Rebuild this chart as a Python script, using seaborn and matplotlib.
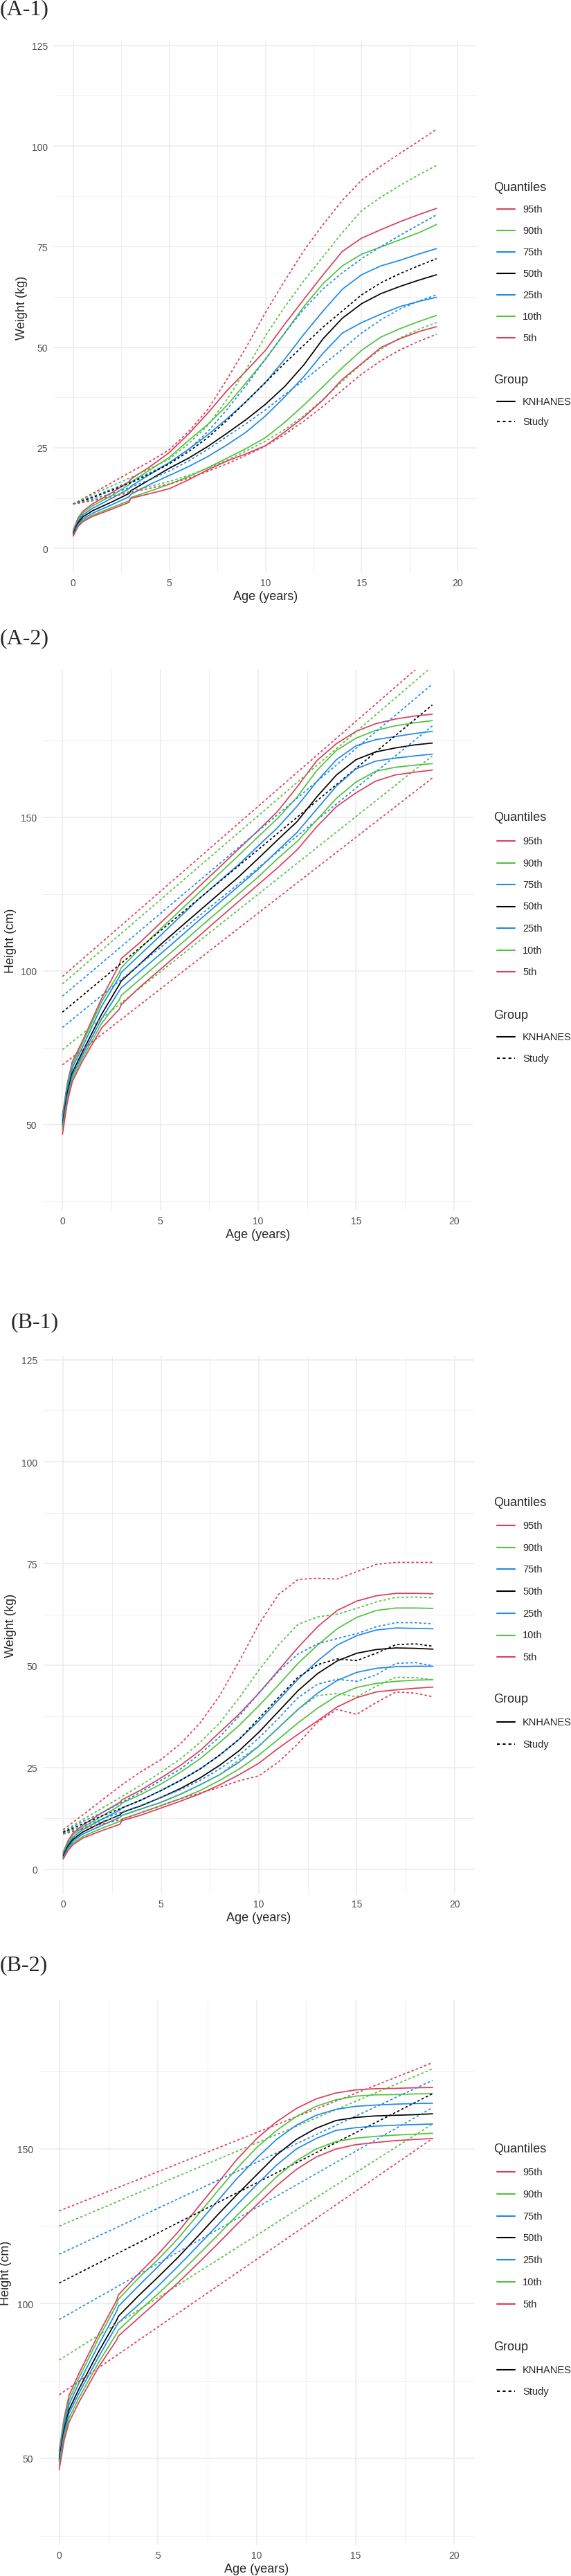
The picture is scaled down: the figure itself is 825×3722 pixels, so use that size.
"""
Growth chart comparison: KNHANES reference quantiles vs study quantiles
Weight and height by age, four stacked panels (A-1, A-2, B-1, B-2)
"""

import numpy as np
import pandas as pd
import matplotlib
matplotlib.use('Agg')
import matplotlib.pyplot as plt
from matplotlib.lines import Line2D
import seaborn as sns

sns.set_style('white')
plt.rcParams['font.family'] = ['Liberation Sans', 'DejaVu Sans']

# ---------------------------------------------------------------- data
QUANTILES = ['95th', '90th', '75th', '50th', '25th', '10th', '5th']
GROUPS = ['KNHANES', 'Study']

# ages for the KNHANES curves and for the study curves
AGE_K = [0, 0.25, 0.5, 1, 2, 2.9, 3, 4, 5, 6, 7, 8, 9, 10, 11, 12, 13, 14,
         15, 16, 17, 18, 18.9]
AGE_S = [0, 1, 2, 3, 4, 5, 6, 7, 8, 9, 10, 11, 12, 13, 14, 15, 16, 17, 18, 18.9]
AGE_LIN = [0, 18.9]

# (A-1) weight
A1_KNHANES = {
    '95th': [4.5, 7.5, 9.2, 11.0, 13.8, 16.5, 17.2, 20.3, 23.8, 28.4, 33.6, 39.2, 44.1, 49.2, 55.7, 61.9, 68.0, 73.8, 77.1, 79.2, 81.2, 83.0, 84.5],
    '90th': [4.2, 7.1, 8.8, 10.5, 13.1, 15.8, 16.4, 19.5, 22.6, 26.8, 30.8, 35.5, 41.2, 47.0, 53.5, 60.1, 65.8, 70.2, 73.1, 74.9, 76.7, 78.5, 80.5],
    '75th': [3.9, 6.7, 8.3, 9.9, 12.4, 14.8, 15.4, 18.4, 21.3, 24.6, 28.2, 32.2, 36.5, 41.2, 47.0, 53.2, 59.0, 64.4, 68.0, 70.2, 71.6, 73.2, 74.5],
    '50th': [3.6, 6.3, 7.8, 9.3, 11.5, 13.6, 14.3, 17.1, 19.9, 22.4, 25.3, 28.6, 32.0, 35.8, 40.2, 45.6, 52.1, 57.2, 60.8, 63.3, 65.1, 66.7, 68.0],
    '25th': [3.3, 5.9, 7.3, 8.7, 10.8, 12.8, 13.4, 15.9, 18.1, 20.3, 22.8, 25.7, 28.9, 32.9, 37.6, 42.7, 48.5, 53.5, 56.1, 58.2, 60.1, 61.4, 62.4],
    '10th': [3.1, 5.6, 6.9, 8.2, 10.1, 11.8, 12.6, 14.2, 15.9, 17.8, 20.0, 22.4, 24.8, 27.5, 31.3, 35.6, 40.2, 44.9, 49.2, 52.5, 54.6, 56.4, 57.9],
    '5th':  [3.0, 5.4, 6.6, 7.9, 9.7, 11.4, 12.4, 13.6, 14.8, 17.0, 19.5, 21.7, 23.5, 25.5, 28.9, 32.6, 36.9, 42.0, 45.9, 49.9, 52.1, 53.9, 55.1],
}
A1_STUDY = {
    '95th': [11.0, 13.6, 16.3, 19.0, 21.6, 24.5, 29.0, 34.5, 42.0, 50.0, 58.6, 66.5, 74.0, 80.5, 86.5, 91.5, 95.0, 98.2, 101.3, 104.2],
    '90th': [11.0, 13.3, 15.5, 17.6, 19.8, 22.2, 26.0, 30.5, 37.0, 44.5, 52.8, 60.0, 66.5, 72.5, 78.5, 83.9, 87.3, 90.2, 92.9, 95.2],
    '75th': [11.0, 12.8, 14.7, 16.6, 18.8, 21.2, 24.5, 29.0, 34.5, 40.5, 47.0, 53.5, 59.5, 64.5, 68.5, 72.0, 75.0, 77.8, 80.5, 82.9],
    '50th': [11.0, 12.6, 14.4, 16.3, 18.5, 21.0, 24.0, 27.5, 31.8, 36.5, 41.2, 46.0, 50.5, 55.0, 59.0, 63.0, 66.0, 68.3, 70.3, 72.0],
    '25th': [11.0, 12.2, 13.6, 15.2, 17.1, 19.2, 21.7, 24.6, 27.8, 31.0, 34.4, 38.2, 41.8, 45.6, 49.5, 53.5, 56.8, 59.5, 61.5, 63.0],
    '10th': [11.0, 11.9, 13.0, 14.2, 15.4, 16.6, 18.1, 19.9, 21.9, 24.2, 26.6, 29.5, 33.0, 37.0, 41.5, 45.8, 49.5, 52.3, 54.5, 56.1],
    '5th':  [11.0, 11.8, 12.8, 13.9, 14.9, 16.0, 17.4, 19.1, 21.0, 23.1, 25.4, 28.3, 31.6, 35.3, 39.3, 43.3, 46.6, 49.3, 51.5, 53.2],
}

# (A-2) height
A2_KNHANES = {
    '95th': [53.1, 63.5, 70.4, 76.9, 91.0, 102.0, 104.0, 109.5, 115.6, 121.6, 127.6, 133.6, 139.7, 145.7, 152.0, 160.0, 168.5, 174.0, 178.0, 180.5, 182.0, 183.0, 183.6],
    '90th': [52.3, 62.8, 69.4, 76.2, 90.0, 99.5, 101.0, 107.5, 113.6, 119.6, 125.6, 131.6, 137.6, 143.7, 149.7, 156.7, 165.3, 171.8, 175.8, 178.3, 179.8, 180.8, 181.5],
    '75th': [51.3, 61.8, 68.4, 74.9, 88.5, 98.0, 99.5, 105.5, 111.5, 117.6, 123.6, 129.1, 134.6, 140.7, 146.7, 153.7, 161.7, 168.8, 173.3, 175.3, 176.3, 177.3, 178.0],
    '50th': [50.0, 60.3, 66.9, 73.4, 85.9, 95.5, 96.7, 102.5, 108.5, 114.1, 119.6, 125.1, 130.6, 136.6, 142.7, 148.7, 156.7, 163.8, 168.8, 171.3, 172.6, 173.6, 174.2],
    '25th': [49.3, 59.2, 65.9, 72.4, 84.4, 93.5, 94.5, 100.0, 105.5, 111.0, 116.6, 122.1, 127.6, 133.1, 139.2, 145.2, 152.7, 160.2, 165.8, 168.3, 169.3, 170.0, 170.6],
    '10th': [48.3, 58.2, 64.9, 71.4, 82.9, 90.5, 92.0, 97.5, 103.0, 108.5, 114.1, 119.6, 125.1, 130.6, 136.6, 142.2, 149.2, 156.2, 161.5, 165.0, 166.3, 167.0, 167.5],
    '5th':  [46.8, 57.3, 63.9, 70.4, 81.4, 87.5, 89.0, 95.0, 100.5, 106.0, 111.5, 117.1, 122.6, 128.1, 133.6, 139.5, 147.0, 153.5, 158.0, 161.8, 163.8, 164.7, 165.4],
}
A2_STUDY = {
    '95th': [98.2, 202.9],
    '90th': [95.8, 199.2],
    '75th': [91.8, 193.4],
    '50th': [86.6, 186.6],
    '25th': [81.6, 179.8],
    '10th': [74.4, 170.0],
    '5th':  [69.4, 162.8],
}

# (B-1) weight
B1_KNHANES = {
    '95th': [4.1, 7.0, 8.8, 10.8, 13.9, 16.4, 17.0, 19.5, 22.4, 25.5, 29.1, 33.6, 38.1, 43.2, 48.8, 54.4, 59.5, 63.5, 65.8, 67.1, 67.7, 67.7, 67.6],
    '90th': [3.8, 6.6, 8.4, 10.2, 13.1, 15.6, 16.2, 18.4, 20.9, 23.8, 27.1, 31.1, 35.3, 40.1, 45.2, 50.5, 55.0, 59.0, 61.8, 63.5, 64.1, 64.1, 64.0],
    '75th': [3.5, 6.1, 7.8, 9.7, 12.3, 14.5, 15.0, 17.0, 19.3, 21.8, 24.6, 28.0, 31.9, 36.4, 41.5, 46.6, 51.1, 55.0, 57.3, 58.7, 59.2, 59.1, 59.0],
    '50th': [3.2, 5.7, 7.3, 9.1, 11.5, 13.3, 13.9, 15.6, 17.6, 19.8, 22.4, 25.5, 29.1, 33.6, 38.7, 43.8, 48.0, 51.1, 53.0, 53.9, 54.3, 54.2, 54.0],
    '25th': [2.9, 5.3, 6.9, 8.6, 10.8, 12.7, 13.2, 14.8, 16.4, 18.4, 20.7, 23.2, 26.3, 30.2, 34.7, 39.2, 43.2, 46.3, 48.3, 49.3, 49.7, 49.8, 49.8],
    '10th': [2.6, 4.9, 6.4, 8.0, 10.1, 11.7, 12.3, 13.9, 15.6, 17.3, 19.3, 21.8, 24.6, 28.0, 31.9, 35.9, 39.5, 42.6, 44.6, 45.6, 46.1, 46.4, 46.5],
    '5th':  [2.5, 4.6, 6.0, 7.6, 9.5, 11.0, 11.9, 13.3, 15.0, 16.7, 18.5, 20.7, 23.2, 26.0, 29.7, 33.1, 36.4, 39.8, 42.1, 43.5, 44.0, 44.4, 44.7],
}
B1_STUDY = {
    '95th': [9.7, 13.3, 17.0, 20.7, 24.0, 26.9, 30.8, 35.9, 42.6, 51.1, 60.1, 67.4, 71.1, 71.4, 71.2, 73.0, 74.8, 75.3, 75.3, 75.3],
    '90th': [9.3, 12.2, 15.0, 17.8, 20.7, 23.8, 27.1, 31.1, 35.9, 42.1, 48.8, 55.0, 60.1, 61.9, 62.6, 64.0, 65.6, 66.7, 66.8, 66.6],
    '75th': [9.1, 11.7, 13.9, 16.4, 19.0, 21.8, 24.6, 28.3, 32.5, 37.6, 43.2, 48.5, 52.8, 55.3, 56.6, 57.8, 59.5, 60.5, 60.5, 60.2],
    '50th': [9.0, 11.1, 13.1, 15.0, 17.0, 19.3, 21.8, 24.6, 28.0, 31.9, 37.0, 42.1, 47.1, 50.2, 51.6, 51.2, 53.0, 55.1, 55.3, 54.7],
    '25th': [8.8, 10.6, 12.3, 14.0, 15.7, 17.6, 19.5, 21.8, 24.6, 28.0, 32.2, 37.0, 42.1, 45.4, 46.6, 46.1, 47.7, 50.5, 50.7, 49.9],
    '10th': [8.7, 10.2, 11.7, 13.2, 14.8, 16.4, 18.4, 20.7, 23.2, 26.9, 30.2, 34.7, 39.2, 42.6, 43.1, 42.3, 44.9, 47.1, 47.0, 46.5],
    '5th':  [8.6, 9.9, 11.1, 12.2, 13.9, 15.6, 17.3, 18.7, 20.1, 21.7, 22.9, 26.3, 30.8, 36.1, 39.2, 38.0, 40.9, 43.5, 43.2, 42.3],
}

# (B-2) height
B2_KNHANES = {
    '95th': [52.4, 63.0, 70.3, 77.4, 90.2, 100.9, 102.8, 109.5, 115.9, 123.0, 130.9, 138.7, 146.6, 153.3, 158.7, 163.0, 166.1, 168.0, 169.0, 169.4, 169.5, 169.7, 169.8],
    '90th': [51.0, 61.8, 68.8, 76.0, 88.8, 99.5, 101.4, 108.1, 114.2, 120.9, 128.5, 136.2, 143.7, 150.4, 155.9, 160.4, 163.7, 165.8, 167.0, 167.4, 167.5, 167.7, 167.8],
    '75th': [50.3, 60.6, 67.4, 74.3, 86.7, 97.4, 99.1, 105.6, 111.9, 118.5, 125.6, 133.0, 140.4, 147.0, 153.0, 157.6, 160.8, 162.7, 163.7, 164.1, 164.4, 164.6, 164.7],
    '50th': [49.6, 59.2, 65.7, 72.4, 84.5, 94.5, 95.9, 102.4, 108.5, 114.8, 121.6, 128.5, 135.2, 141.6, 148.0, 153.0, 156.6, 159.1, 160.1, 160.6, 160.8, 161.0, 161.3],
    '25th': [48.9, 58.2, 64.6, 71.0, 82.8, 92.8, 93.8, 99.5, 105.6, 111.9, 118.5, 125.2, 131.9, 138.4, 144.7, 149.9, 153.3, 155.9, 156.8, 157.3, 157.6, 157.8, 158.0],
    '10th': [47.7, 57.0, 63.1, 69.5, 81.0, 90.2, 91.4, 97.4, 103.1, 109.1, 115.5, 121.9, 128.5, 134.7, 140.9, 146.1, 149.9, 152.3, 153.4, 154.0, 154.4, 154.7, 155.0],
    '5th':  [46.3, 55.8, 61.7, 68.1, 79.5, 88.1, 89.5, 95.2, 100.9, 106.6, 112.8, 119.1, 125.6, 131.9, 138.0, 143.3, 147.3, 149.9, 151.3, 152.0, 152.6, 153.0, 153.3],
}
B2_STUDY = {
    '95th': [129.9, 177.8],
    '90th': [125.0, 175.8],
    '75th': [115.9, 172.1],
    '50th': [106.6, 167.8],
    '25th': [94.8, 163.3],
    '10th': [81.7, 158.0],
    '5th':  [70.5, 153.3],
}

PALETTE = {'95th': '#DC3F5C', '90th': '#52C23F', '75th': '#1E8AE6', '50th': 'black',
           '25th': '#1E8AE6', '10th': '#52C23F', '5th': '#DC3F5C'}

# ---------------------------------------------------------------- layout (pixels)
W, H = 825, 3723
GRID = '#EBEBEB'

PANELS = [
    dict(title='(A-1)', tx=0, ty=14, box=(78, 689, 61, 828), kind='weight',
         ylabel='Weight (kg)', ylx=32, leg=(271, 303, 31.0, 549, 581, 610),
         data=(A1_KNHANES, AGE_K, A1_STUDY, AGE_S)),
    dict(title='(A-2)', tx=0, ty=923, box=(62, 684, 969, 1750), kind='height',
         ylabel='Height (cm)', ylx=16, leg=(1182, 1216, 31.5, 1467, 1499, 1530),
         data=(A2_KNHANES, AGE_K, A2_STUDY, AGE_LIN)),
    dict(title='(B-1)', tx=16, ty=1911, box=(63, 685, 1960, 2737), kind='weight',
         ylabel='Weight (kg)', ylx=16, leg=(2172, 2205, 31.7, 2456, 2489, 2521),
         data=(B1_KNHANES, AGE_K, B1_STUDY, AGE_S)),
    dict(title='(B-2)', tx=0, ty=2840, box=(57, 685, 2891, 3678), kind='height',
         ylabel='Height (cm)', ylx=9, leg=(3106, 3139, 31.8, 3391, 3425, 3456),
         data=(B2_KNHANES, AGE_K, B2_STUDY, AGE_LIN)),
]


def fx(px):
    return px / W


def fy(py):
    return 1 - py / H


def long_frame(knhanes, age_k, study, age_s):
    rows = []
    for q in QUANTILES:
        for a, v in zip(age_k, knhanes[q]):
            rows.append((a, v, q, 'KNHANES'))
        for a, v in zip(age_s, study[q]):
            rows.append((a, v, q, 'Study'))
    return pd.DataFrame(rows, columns=['age', 'value', 'quantile', 'group'])


def draw_legend(fig, leg):
    q_title, first, step, g_title, kn_y, st_y = leg
    fig.text(fx(713), fy(q_title), 'Quantiles', fontsize=13, va='center', ha='left')
    for i, q in enumerate(QUANTILES):
        y = first + i * step
        fig.add_artist(Line2D([fx(718), fx(744)], [fy(y), fy(y)], transform=fig.transFigure,
                              color=PALETTE[q], lw=1.5))
        fig.text(fx(755), fy(y), q, fontsize=10.5, va='center', ha='left')
    fig.text(fx(713), fy(g_title), 'Group', fontsize=13, va='center', ha='left')
    fig.add_artist(Line2D([fx(718), fx(744)], [fy(kn_y), fy(kn_y)], transform=fig.transFigure,
                          color='black', lw=1.5))
    fig.add_artist(Line2D([fx(718), fx(744)], [fy(st_y), fy(st_y)], transform=fig.transFigure,
                          color='black', lw=1.5, linestyle=(0, (2, 2))))
    fig.text(fx(755), fy(kn_y), 'KNHANES', fontsize=10.5, va='center', ha='left')
    fig.text(fx(755), fy(st_y), 'Study', fontsize=10.5, va='center', ha='left')


fig = plt.figure(figsize=(W / 100, H / 100), dpi=100)
fig.patch.set_facecolor('white')

for p in PANELS:
    left, right, top, bottom = p['box']
    ax = fig.add_axes([fx(left), fy(bottom), (right - left) / W, (bottom - top) / H])

    df = long_frame(*p['data'])
    sns.lineplot(data=df, x='age', y='value', hue='quantile', style='group',
                 hue_order=QUANTILES, style_order=GROUPS, palette=PALETTE,
                 dashes={'KNHANES': '', 'Study': (2, 1.8)},
                 estimator=None, sort=False, legend=False, lw=1.25, ax=ax)

    ax.set_xlim(-1, 21)
    ax.set_xticks([0, 5, 10, 15, 20])
    ax.set_xticks([2.5, 7.5, 12.5, 17.5], minor=True)
    if p['kind'] == 'weight':
        ax.set_ylim(-6, 126)
        ax.set_yticks([0, 25, 50, 75, 100, 125])
        ax.set_yticks([12.5, 37.5, 62.5, 87.5, 112.5], minor=True)
    else:
        ax.set_ylim(22, 198)
        ax.set_yticks([50, 100, 150])
        ax.set_yticks([25, 75, 125, 175], minor=True)

    ax.grid(True, which='major', color=GRID, lw=1.1)
    ax.grid(True, which='minor', color=GRID, lw=0.6)
    ax.set_axisbelow(True)
    for s in ax.spines.values():
        s.set_visible(False)
    ax.tick_params(which='both', length=0, labelsize=10, labelcolor='#4D4D4D')
    ax.tick_params(axis='x', pad=6)
    ax.tick_params(axis='y', pad=6.5)
    ax.set_xlabel('')
    ax.set_ylabel('')

    # axis titles
    fig.text(fx((left + right) / 2), fy(bottom + 35), 'Age (years)', fontsize=13,
             ha='center', va='center')
    fig.text(fx(p['ylx']), fy((top + bottom) / 2), p['ylabel'], fontsize=13,
             ha='center', va='center', rotation=90)

    # panel tag
    fig.text(fx(p['tx']), fy(p['ty']), p['title'], fontsize=23,
             family='Liberation Serif', ha='left', va='center')

    draw_legend(fig, p['leg'])

plt.savefig('out.png', dpi=100)
plt.close()
